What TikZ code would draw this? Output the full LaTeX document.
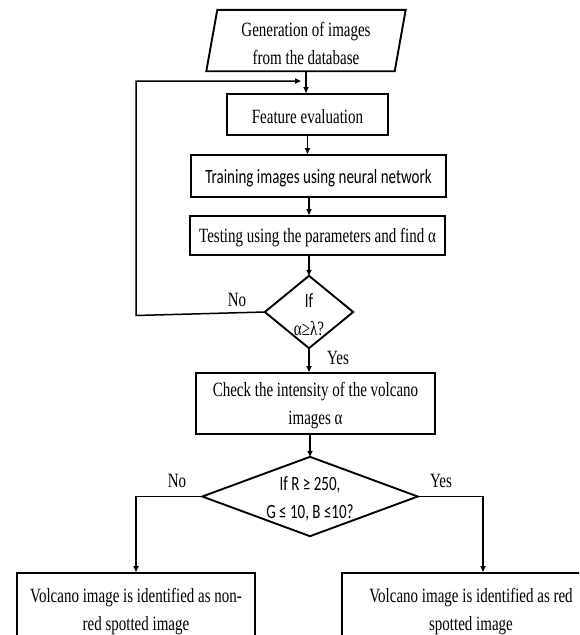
\documentclass[tikz,border=0pt]{standalone}
\usepackage{fontspec}
\usepackage{graphicx}
\setmainfont{Liberation Serif}
\newfontfamily\calib{Carlito}
\newcommand\stl[1]{\raisebox{-2.5pt}[\height][\depth]{\scalebox{1}[1.35]{#1}}}
\usetikzlibrary{arrows.meta,calc}
\begin{document}
\begin{tikzpicture}[x=1pt,y=-1pt,
  boxnode/.style={draw, line width=1.9pt, inner sep=0pt, align=center, font=\fontsize{15}{28}\selectfont},
  plainnode/.style={inner sep=0pt, align=center, font=\fontsize{15}{28}\selectfont},
  outline/.style={line width=1.9pt, line join=miter},
  conn/.style={line width=1.5pt, -{Triangle[length=6pt,width=5pt]}},
  lbl/.style={inner sep=0pt, font=\fontsize{15}{18}\selectfont}]
\useasboundingbox (0,0) rectangle (579,635);
\clip (0,0) rectangle (579,635);

% nodes
\node[plainnode, minimum width=188pt, minimum height=61pt] (gen) at (306,40.5) {\stl{Generation of images}\\\stl{from the database}};
\draw[outline] ([xshift=5.5pt]gen.north west) -- ([xshift=5.5pt]gen.north east) -- ([xshift=-5.5pt]gen.south east) -- ([xshift=-5.5pt]gen.south west) -- cycle;

\node[boxnode, minimum width=161pt, minimum height=41pt] (fe) at (307.5,114.5) {\stl{Feature evaluation}};
\node[boxnode, font=\calib\fontsize{15}{28}\selectfont, minimum width=255pt, minimum height=42pt] (tr) at (318.5,176) {\stl{Training images using neural network}};
\node[boxnode, minimum width=255pt, minimum height=39pt] (te) at (317.5,235.5) {\stl{Testing using the parameters and find α}};

\node[plainnode, minimum width=88pt, minimum height=72pt] (d1) at (309,312) {\stl{\calib If}\\\stl{α≥λ?}};
\draw[outline] (d1.north) -- (d1.east) -- (d1.south) -- (d1.west) -- cycle;

\node[boxnode, minimum width=239pt, minimum height=61pt] (ck) at (315.5,403.5) {\stl{Check the intensity of the volcano}\\\stl{images α}};

\node[plainnode, font=\calib\fontsize{15}{28}\selectfont, minimum width=215pt, minimum height=79pt] (d2) at (310,496.5) {\stl{If R ≥ 250,}\\\stl{G ≤ 10, B ≤10?}};
\draw[outline] (d2.north) -- (d2.east) -- (d2.south) -- (d2.west) -- cycle;

\node[boxnode, minimum width=238pt, minimum height=73pt] (lb) at (136,609.5) {\stl{Volcano image is identified as non-}\\\stl{red spotted image}};
\node[boxnode, minimum width=258pt, minimum height=73pt] (rb) at (471,609.5) {\stl{Volcano image is identified as red}\\\stl{spotted image}};

% labels
\node[lbl] (no1) at (237,297) {\stl{No}};
\node[lbl] (yes1) at (338,355) {\stl{Yes}};
\node[lbl] (no2) at (177,478) {\stl{No}};
\node[lbl] (yes2) at (441,478) {\stl{Yes}};

% connectors
\draw[conn] (gen.south) -- (gen.south |- fe.north);
\draw[conn] (fe.south) -- (fe.south |- tr.north);
\draw[conn] (d1.north |- tr.south) -- (d1.north |- te.north);
\draw[conn] (d1.north |- te.south) -- (d1.north);
\draw[conn] (d1.south) -- (d1.south |- ck.north);
\draw[conn] (d2.north |- ck.south) -- (d2.north);
\draw[conn] (d2.west) -| (lb.north);
\draw[conn] (d2.east) -| ([xshift=12pt]rb.north);

\coordinate (lpa) at (136,315.5);
\coordinate (lpb) at (136,81);
\coordinate (lpe) at (301,81);
\draw[conn] (d1.west) -- (lpa) -- (lpb) -- (lpe);
\end{tikzpicture}
\end{document}
